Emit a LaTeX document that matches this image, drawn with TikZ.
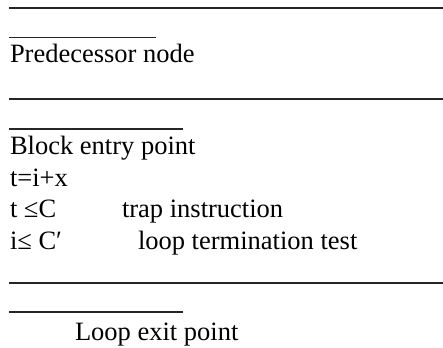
\documentclass[tikz,border=0pt]{standalone}
\usepackage{fontspec}
\setmainfont{Liberation Serif}
\begin{document}
\begin{tikzpicture}[x=1pt,y=-1pt,
  rule/.style={line width=1.3pt, draw=black!85},
  txt/.style={anchor=base west, inner sep=0pt, outer sep=0pt,
    font=\fontsize{26.5}{31}\selectfont}]
  \useasboundingbox (0,0) rectangle (443,347);
  % separators and short underlines
  \draw[rule] (9,8) -- (443,8);
  \draw[rule] (9,37.5) -- (156,37.5);
  \draw[rule] (9,99) -- (443,99);
  \draw[rule] (9,129) -- (183,129);
  \draw[rule] (9,283) -- (443,283);
  \draw[rule] (9,312) -- (183,312);
  % labels
  \node[txt] (pred) at (10,63) {Predecessor node};
  \node[txt] (entry) at (10,155) {Block entry point};
  \node[txt] (assign) at (10,186) {t=i+x};
  \node[txt] (trapc) at (10,217) {t ≤C};
  \node[txt] (trap) at (122,217) {trap instruction};
  \node[txt] (loopc) at (10,249) {i≤ C′};
  \node[txt] (loopt) at (138,249) {loop termination test};
  \node[txt] (exit) at (75,340) {Loop exit point};
\end{tikzpicture}
\end{document}
